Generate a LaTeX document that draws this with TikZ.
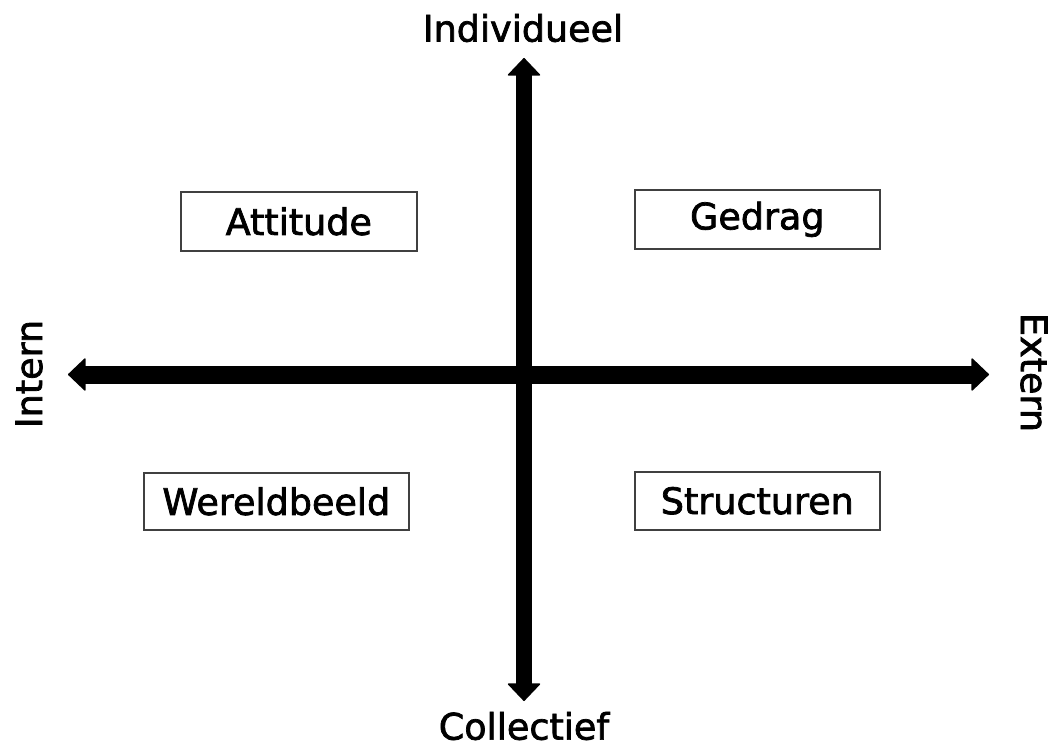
\documentclass[tikz,border=0pt]{standalone}
\usepackage{fontspec}
\setmainfont{DejaVu Sans}[FakeBold=2]
\usetikzlibrary{arrows.meta}
\begin{document}
\begin{tikzpicture}[x=1pt,y=-1pt,
  lbl/.style={font=\fontsize{36.5}{40}\selectfont, inner sep=0pt},
  quad/.style={draw=black!75, line width=1.6pt, fill=white, font=\fontsize{36.5}{40}\selectfont, inner sep=0pt, anchor=north west},
  tip/.tip={Triangle[width=34pt 0,length=18pt 0 0,line width=1.5pt 0 0,round]},
  axis/.style={line width=#1, tip-tip}
]
\useasboundingbox (0,0) rectangle (1056,751);
\fill[white] (0,0) rectangle (1056,751);
% axes
\coordinate (L) at (68,374.5);
\coordinate (R) at (989,374.5);
\coordinate (T) at (524,58);
\coordinate (B) at (524,701);
\draw[axis=18pt] (L) -- (R);
\draw[axis=16pt] (T) -- (B);
% axis labels
\node[lbl] (ind) at (523,28) {Individueel};
\node[lbl] (col) at (524,726) {Collectief};
\node[lbl, rotate=90] (int) at (29,374) {Intern};
\node[lbl, rotate=-90] (ext) at (1034,372.5) {Extern};
% boxes
\node[quad, minimum width=236pt, minimum height=59pt] (att) at (180,191) {Attitude};
\node[quad, minimum width=245pt, minimum height=59pt] (ged) at (634,189) {Gedrag};
\node[quad, minimum width=265pt, minimum height=57pt] (wer) at (143,472) {Wereldbeeld};
\node[quad, minimum width=245pt, minimum height=58pt] (str) at (634,471) {Structuren};
\end{tikzpicture}
\end{document}
